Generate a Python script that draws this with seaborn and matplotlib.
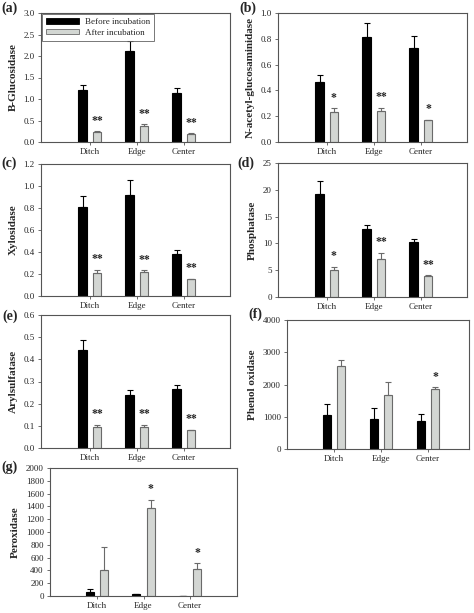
import matplotlib
matplotlib.use("Agg")
import matplotlib.pyplot as plt
import matplotlib.patches as mpatches
import seaborn as sns
import pandas as pd
import numpy as np

sns.set_theme(style="ticks")
plt.rcParams['font.family'] = ['Liberation Serif', 'DejaVu Serif']

sites = ["Ditch", "Edge", "Center"]
groups = ["Before incubation", "After incubation"]

# panel data: before / after means and upper error bars
glu_before = [1.20, 2.12, 1.15]
glu_before_err = [0.13, 0.23, 0.11]
glu_after = [0.23, 0.37, 0.19]
glu_after_err = [0.02, 0.04, 0.01]
glu_stars = ["**", "**", "**"]

nag_before = [0.465, 0.815, 0.725]
nag_before_err = [0.055, 0.105, 0.10]
nag_after = [0.235, 0.24, 0.168]
nag_after_err = [0.025, 0.025, 0.004]
nag_stars = ["*", "**", "*"]

xyl_before = [0.81, 0.92, 0.38]
xyl_before_err = [0.095, 0.13, 0.035]
xyl_after = [0.21, 0.215, 0.155]
xyl_after_err = [0.028, 0.02, 0.004]
xyl_stars = ["**", "**", "**"]

pho_before = [19.2, 12.7, 10.3]
pho_before_err = [2.4, 0.7, 0.5]
pho_after = [5.0, 7.1, 3.9]
pho_after_err = [0.6, 1.1, 0.15]
pho_stars = ["*", "**", "**"]

ary_before = [0.44, 0.238, 0.267]
ary_before_err = [0.045, 0.025, 0.018]
ary_after = [0.093, 0.095, 0.080]
ary_after_err = [0.013, 0.010, 0.002]
ary_stars = ["**", "**", "**"]

phe_before = [1050, 940, 860]
phe_before_err = [340, 320, 220]
phe_after = [2570, 1680, 1850]
phe_after_err = [190, 400, 60]
phe_stars = ["", "", "*"]

per_before = [65, 25, 0]
per_before_err = [45, 10, 0]
per_after = [400, 1375, 420]
per_after_err = [360, 130, 90]
per_stars = ["", "*", "*"]

BLACK = "#000000"
GRAY = "#d3d7d3"
GRAY_EDGE = "#6a6a6a"
SPINE = "#555555"

W, H = 474, 613
fig = plt.figure(figsize=(W / 100, H / 100), dpi=100)


def px_axes(left, right, top, bottom):
    return fig.add_axes([left / W, 1 - bottom / H, (right - left) / W, (bottom - top) / H])


def panel(ax, before, before_err, after, after_err, stars, ylabel, ymax, step,
          fmt, xlim, width=0.6, gap=0.37):
    df = pd.DataFrame({
        "site": sites * 2,
        "group": [groups[0]] * 3 + [groups[1]] * 3,
        "value": before + after,
    })
    sns.barplot(data=df, x="site", y="value", hue="group", order=sites,
                hue_order=groups, palette=[BLACK, GRAY], width=width, gap=gap,
                errorbar=None, legend=False, ax=ax, linewidth=0.8)
    errs = [before_err, after_err]
    ecolors = [BLACK, GRAY_EDGE]
    bar_conts = list(ax.containers)
    for i, cont in enumerate(bar_conts):
        xs = []
        for bar in cont.patches:
            bar.set_edgecolor(BLACK if i == 0 else GRAY_EDGE)
            bar.set_linewidth(0.8)
            xs.append(bar.get_x() + bar.get_width() / 2)
        vals = [before, after][i]
        ax.errorbar(xs, vals, yerr=[np.zeros(3), errs[i]], fmt="none",
                    ecolor=ecolors[i], elinewidth=0.8, capsize=2.2,
                    capthick=0.8, zorder=1)
        if i == 1:
            for x, v, e, s in zip(xs, vals, errs[i], stars):
                if s:
                    ax.text(x, v + e + 0.035 * ymax, s, ha="center", va="bottom",
                            fontsize=8.5, fontweight="bold")
    ax.set_ylim(0, ymax)
    ax.set_xlim(*xlim)
    ticks = np.arange(0, ymax + step / 2, step)
    ax.set_yticks(ticks)
    ax.set_yticklabels([fmt.format(t) for t in ticks])
    ax.set_xlabel("")
    ax.set_ylabel(ylabel, fontsize=8, fontweight="bold", labelpad=4)
    ax.tick_params(axis="both", labelsize=6.5, length=2.5, width=0.6,
                   color=SPINE, pad=2)
    ax.tick_params(axis="x", pad=2, labelsize=6.5)
    for sp in ax.spines.values():
        sp.set_color(SPINE)
        sp.set_linewidth(0.8)
        sp.set_visible(True)


ax_a = px_axes(41, 230, 13, 142)
panel(ax_a, glu_before, glu_before_err, glu_after, glu_after_err, glu_stars,
      "B-Glucosidase", 3.0, 0.5, "{:.1f}", (-1.04, 2.98))
handles = [mpatches.Patch(facecolor=BLACK, edgecolor=BLACK, linewidth=0.6),
           mpatches.Patch(facecolor=GRAY, edgecolor=GRAY_EDGE, linewidth=0.6)]
leg = ax_a.legend(handles, groups, loc="upper left", fontsize=6.5,
                  frameon=True, fancybox=False, handlelength=3.6,
                  handleheight=0.6, borderpad=0.45, labelspacing=0.25,
                  handletextpad=0.7, borderaxespad=0.15)
leg.get_frame().set_edgecolor(SPINE)
leg.get_frame().set_linewidth(0.7)

ax_b = px_axes(278, 467, 13, 142)
panel(ax_b, nag_before, nag_before_err, nag_after, nag_after_err, nag_stars,
      "N-acetyl-glucosaminidase", 1.0, 0.2, "{:.1f}", (-1.04, 2.98))

ax_c = px_axes(41, 230, 164, 296)
panel(ax_c, xyl_before, xyl_before_err, xyl_after, xyl_after_err, xyl_stars,
      "Xylosidase", 1.2, 0.2, "{:.1f}", (-1.04, 2.98))

ax_d = px_axes(278, 467, 163, 297)
panel(ax_d, pho_before, pho_before_err, pho_after, pho_after_err, pho_stars,
      "Phosphatase", 25, 5, "{:.0f}", (-1.04, 2.98))

ax_e = px_axes(41, 230, 315, 448)
panel(ax_e, ary_before, ary_before_err, ary_after, ary_after_err, ary_stars,
      "Arylsulfatase", 0.6, 0.1, "{:.1f}", (-1.04, 2.98))

ax_f = px_axes(287, 469, 320, 449)
panel(ax_f, phe_before, phe_before_err, phe_after, phe_after_err, phe_stars,
      "Phenol oxidase", 4000, 1000, "{:.0f}", (-1.0, 2.87), width=0.62, gap=0.45)

ax_g = px_axes(50, 237, 468, 596)
panel(ax_g, per_before, per_before_err, per_after, per_after_err, per_stars,
      "Peroxidase", 2000, 200, "{:.0f}", (-1.01, 3.01), width=0.62, gap=0.45)

labels = [("(a)", 9, 8), ("(b)", 248, 8), ("(c)", 9, 163), ("(d)", 246, 163),
          ("(e)", 10, 316), ("(f)", 255, 314), ("(g)", 10, 467)]
for text, x, y in labels:
    fig.text(x / W, 1 - y / H, text, fontsize=10, fontweight="bold",
             ha="center", va="center")

fig.savefig("out.png", dpi=100)
